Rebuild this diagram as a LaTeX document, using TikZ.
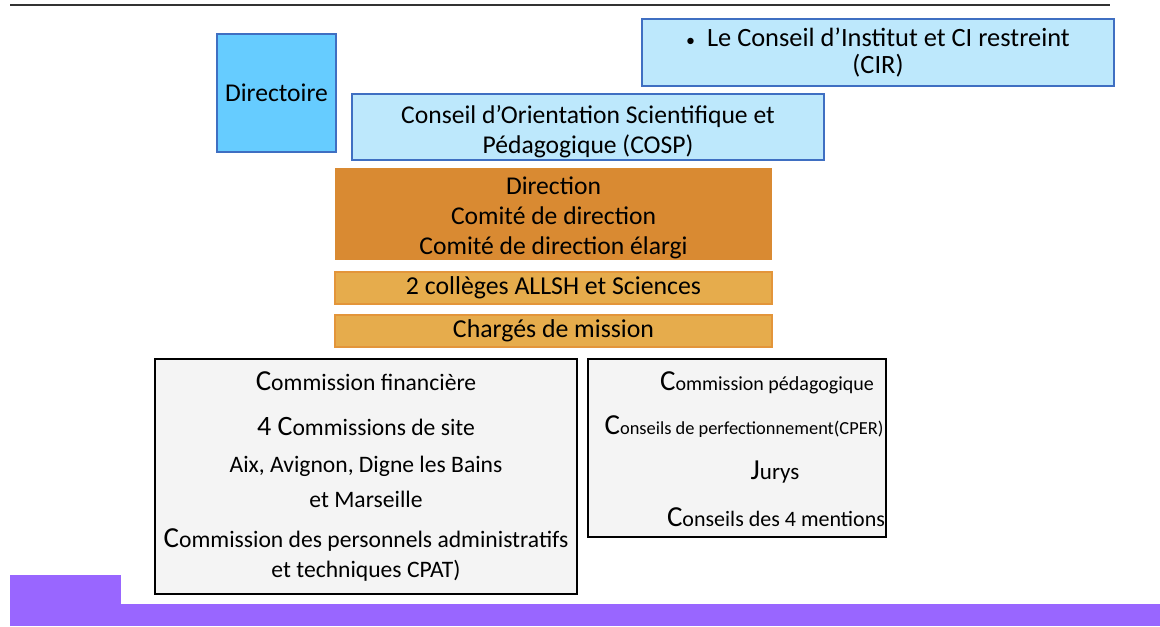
\documentclass[tikz,border=0pt]{standalone}
\usepackage{fontspec}
\setmainfont{Carlito}
\usepackage{tikz}
\usetikzlibrary{positioning}
\definecolor{dirblue}{HTML}{66CCFF}
\definecolor{paleblue}{HTML}{BDE8FC}
\definecolor{edgeblue}{HTML}{3F6FC2}
\definecolor{dirorange}{HTML}{D98A32}
\definecolor{gold}{HTML}{E6AC4C}
\definecolor{goldedge}{HTML}{E3953A}
\definecolor{boxgray}{HTML}{F4F4F4}
\definecolor{tabpurple}{HTML}{9966FF}
\newcommand{\bigc}{{\fontsize{14.5}{14}\selectfont C}}
\tikzset{every node/.append style={scale=1}}

\begin{document}
\begin{tikzpicture}[x=0.5pt,y=-0.5pt,
    bluebox/.style={draw=edgeblue, line width=0.8pt, fill=dirblue, inner sep=0pt, align=center},
    palebox/.style={draw=edgeblue, line width=0.8pt, fill=paleblue, inner sep=0pt, align=center},
    orangebox/.style={fill=dirorange, inner sep=0pt, align=center},
    goldbox/.style={draw=goldedge, line width=0.8pt, fill=gold, inner sep=0pt, align=center},
    graybox/.style={draw=black, line width=0.8pt, fill=boxgray, inner sep=0pt, align=center},
    pedline/.style={inner sep=0pt}]
              \useasboundingbox (0,0) rectangle (1160,626);
              \coordinate (rulel) at (10,5);
              \coordinate (ruler) at (1110,5);
              \draw[line width=1pt, black!80] (rulel)--(ruler);

              \node[bluebox, minimum width=59.5pt, minimum height=59pt, font=\fontsize{12.8}{15}\selectfont] at (276.5,93) (dir) {Directoire};
              \node[palebox, minimum width=236pt, minimum height=33.5pt, font=\fontsize{13.2}{13.5}\selectfont] at (878,52.5) (cir) {{\small\textbullet}\hspace{0.45em}Le Conseil d’Institut et CI restreint\\(CIR)};
              \node[palebox, minimum width=236pt, minimum height=33pt, font=\fontsize{12.8}{15}\selectfont] at (588,127) (cosp) {\rule{0pt}{14pt}Conseil d’Orientation Scientifique et\\Pédagogique (COSP)};
              \node[orangebox, minimum width=218.5pt, minimum height=46pt, font=\fontsize{12.8}{15}\selectfont] at (553.5,214) (direc) {\rule{0pt}{12.5pt}Direction\\Comité de direction\\Comité de direction élargi};
              \node[goldbox, minimum width=218.5pt, minimum height=16pt, font=\fontsize{12.9}{14}\selectfont] at (553.5,288) (coll) {2 collèges ALLSH et Sciences};
              \node[goldbox, minimum width=218.5pt, minimum height=16pt, font=\fontsize{12.9}{14}\selectfont] at (553.5,331) (charg) {Chargés de mission};

              \node[graybox, minimum width=211pt, minimum height=117.5pt, font=\fontsize{11.8}{13}\selectfont] at (366,476.5) (fin) {\bigc ommission financière\\[9.5pt]
                {\fontsize{14}{13}\selectfont 4 C}ommissions de site\\[5.5pt]
                Aix, Avignon, Digne les Bains\\[4.5pt]
                et Marseille\\[7pt]
                \bigc ommission des personnels administratifs\\[2pt]
                et techniques CPAT)};

              \node[graybox, minimum width=149pt, minimum height=89pt] at (737,448) (ped) {};
              \node[pedline, font=\fontsize{10}{12}\selectfont] at (767,383) (ped1) {\bigc ommission pédagogique};
              \node[pedline, font=\fontsize{9.2}{12}\selectfont] at (744,427) (ped2) {\bigc onseils de perfectionnement(CPER)};
              \node[pedline, font=\fontsize{11.5}{12}\selectfont] at (775,472) (ped3) {{\fontsize{14.5}{14}\selectfont J}urys};
              \node[pedline, font=\fontsize{11}{12}\selectfont] at (776,517) (ped4) {\bigc onseils des 4 mentions};

              \fill[tabpurple] (10,575) rectangle (121,626);
              \fill[tabpurple] (10,604) rectangle (1160,626);
\end{tikzpicture}
\end{document}
